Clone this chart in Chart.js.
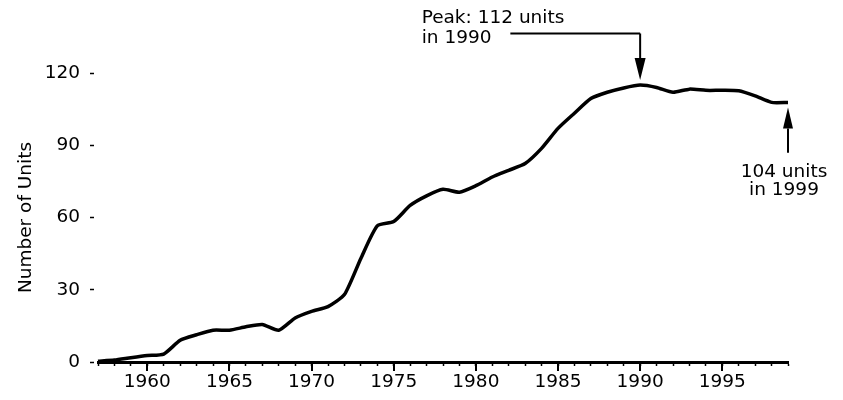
<!DOCTYPE html>
<html>
<head>
<meta charset="utf-8">
<script src="https://cdn.jsdelivr.net/npm/chart.js@4"></script>
<style>
  html, body { margin: 0; padding: 0; background: #fff; }
  #wrap { width: 843px; height: 400px; }
</style>
</head>
<body>
<div id="wrap"><canvas id="c" width="843" height="400"></canvas></div>
<script>
// ---- data ----
const years = [1957,1958,1959,1960,1961,1962,1963,1964,1965,1966,1967,1968,1969,1970,1971,1972,1973,1974,1975,1976,1977,1978,1979,1980,1981,1982,1983,1984,1985,1986,1987,1988,1989,1990,1991,1992,1993,1994,1995,1996,1997,1998,1999];
const units = [0.3,0.8,1.8,2.7,3.3,9.0,11.3,13.2,13.2,14.6,15.6,13.2,18.3,21.0,23.0,28.0,43.0,56.5,58.3,65.0,69.0,71.7,70.5,73.2,76.8,79.6,82.4,88.7,97.0,103.3,109.4,112.0,113.8,115.0,114.0,112.0,113.3,112.8,112.8,112.6,110.5,107.8,107.8];
const yTicks = [0, 30, 60, 90, 120];
const xLabelYears = [1960, 1965, 1970, 1975, 1980, 1985, 1990, 1995];
const yTitle = 'Number of Units';
const peakYear = 1990;
const peakText = ['Peak: 112 units', 'in 1990'];
const endYear = 1999;
const endText = ['104 units', 'in 1999'];

const FONT = 'DejaVu Sans';
const FS = 18.5;

const annotate = {
  id: 'annotate',
  afterDraw(chart) {
    const ctx = chart.ctx;
    const xs = chart.scales.x, ys = chart.scales.y;
    // major ticks (every 5 years)
    ctx.save();
    ctx.strokeStyle = '#000';
    ctx.lineWidth = 2;
    xLabelYears.forEach(v => {
      const px = Math.round(xs.getPixelForValue(v));
      ctx.beginPath();
      ctx.moveTo(px, xs.top);
      ctx.lineTo(px, xs.top + 9);
      ctx.stroke();
    });
    ctx.restore();

    function arrow(x, fromY, tipY, len, halfW) {
      const dir = tipY > fromY ? 1 : -1;
      ctx.beginPath();
      ctx.moveTo(x, fromY);
      ctx.lineTo(x, tipY - dir * len);
      ctx.stroke();
      ctx.beginPath();
      ctx.moveTo(x, tipY);
      ctx.lineTo(x - halfW, tipY - dir * len);
      ctx.lineTo(x + halfW, tipY - dir * len);
      ctx.closePath();
      ctx.fill();
    }

    ctx.save();
    ctx.strokeStyle = '#000';
    ctx.fillStyle = '#000';
    ctx.lineWidth = 2;
    ctx.font = FS + 'px "' + FONT + '"';
    ctx.textBaseline = 'alphabetic';

    // peak annotation
    const iPeak = years.indexOf(peakYear);
    const pX = xs.getPixelForValue(peakYear);
    const pTip = ys.getPixelForValue(units[iPeak]) - 5;
    const lineY = ys.getPixelForValue(136.4);
    const lineStartX = xs.getPixelForValue(1982.1);
    ctx.beginPath();
    ctx.moveTo(lineStartX, lineY);
    ctx.lineTo(pX, lineY);
    ctx.stroke();
    arrow(pX, lineY, pTip, 22, 5.5);
    ctx.textAlign = 'left';
    const tX = xs.getPixelForValue(1976.7);
    ctx.fillText(peakText[0], tX, ys.getPixelForValue(140.8));
    ctx.fillText(peakText[1], tX, ys.getPixelForValue(132.5));

    // end annotation
    const iEnd = years.indexOf(endYear);
    const eX = xs.getPixelForValue(endYear);
    const eTip = ys.getPixelForValue(units[iEnd]) + 5;
    arrow(eX, ys.getPixelForValue(86.9), eTip, 21, 5);
    ctx.textAlign = 'center';
    ctx.fillText(endText[0], eX - 4, ys.getPixelForValue(77.0));
    ctx.fillText(endText[1], eX - 4, ys.getPixelForValue(69.4));
    ctx.restore();
  }
};

new Chart(document.getElementById('c'), {
  type: 'line',
  data: {
    datasets: [{
      data: years.map((y, i) => ({ x: y, y: units[i] })),
      borderColor: '#000',
      borderWidth: 3.5,
      pointRadius: 0,
      tension: 0.2,
      fill: false,
      clip: false
    }]
  },
  options: {
    responsive: false,
    animation: false,
    events: [],
    layout: { padding: { left: 0, right: 55, top: 73, bottom: 0 } },
    plugins: { legend: { display: false }, tooltip: { enabled: false } },
    scales: {
      x: {
        type: 'linear',
        min: years[0],
        max: years[years.length - 1],
        afterFit(s) { s.height = 38; },
        border: { display: true, color: '#000', width: 3 },
        grid: { display: true, drawOnChartArea: false, drawTicks: true, tickLength: 4, tickColor: '#000', tickWidth: 1.5 },
        ticks: {
          stepSize: 1,
          autoSkip: false,
          maxRotation: 0,
          padding: 5,
          color: '#000',
          font: { family: FONT, size: FS },
          callback: v => (xLabelYears.includes(v) ? String(v) : '')
        }
      },
      y: {
        min: yTicks[0],
        max: yTicks[yTicks.length - 1],
        afterFit(s) { s.width = 98; },
        afterBuildTicks(s) { s.ticks = yTicks.map(v => ({ value: v })); },
        border: { display: false },
        grid: { display: true, drawOnChartArea: false, drawTicks: true, tickLength: 8, tickColor: '#000', tickWidth: 1.5, tickBorderDash: [4, 20] },
        ticks: {
          padding: 10,
          color: '#000',
          font: { family: FONT, size: FS }
        },
        title: {
          display: true,
          text: yTitle,
          color: '#000',
          font: { family: FONT, size: FS },
          padding: { top: 15, bottom: 0 }
        }
      }
    }
  },
  plugins: [annotate]
});
</script>
</body>
</html>
